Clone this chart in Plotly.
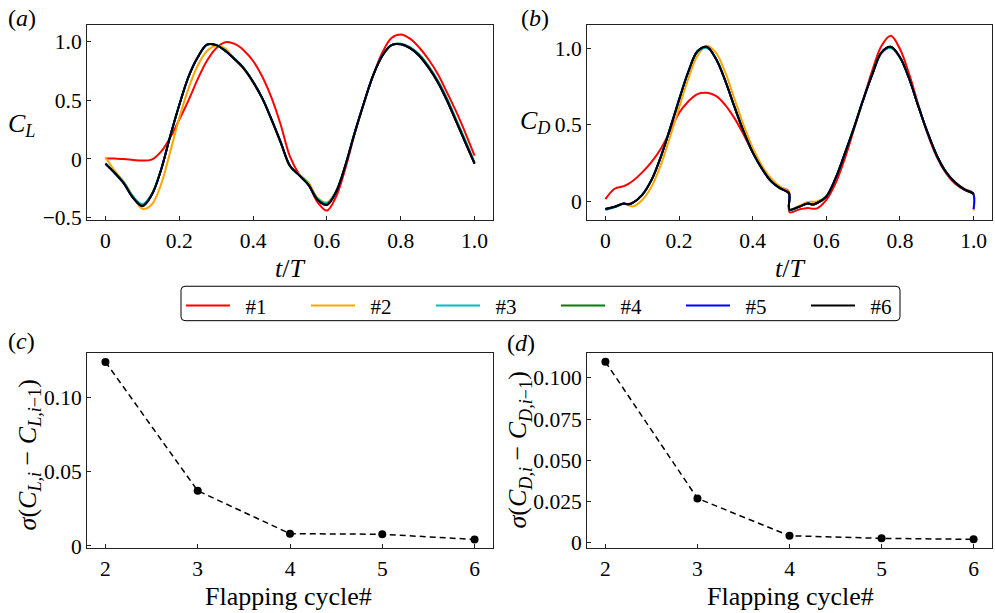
import plotly.graph_objects as go

# ---------------------------------------------------------------
# Lift coefficient over one period, flapping cycles #1 .. #6
# ---------------------------------------------------------------
t_cl = [0.0, 0.025, 0.05, 0.075, 0.1, 0.125, 0.15, 0.175, 0.2, 0.225,
        0.25, 0.275, 0.3, 0.325, 0.35, 0.375, 0.4, 0.425, 0.45, 0.475,
        0.5, 0.525, 0.55, 0.575, 0.6, 0.625, 0.65, 0.675, 0.7, 0.725,
        0.75, 0.775, 0.8, 0.825, 0.85, 0.875, 0.9, 0.925, 0.95, 0.975, 1.0]

cl_1 = [0.005, 0.003, 0.0, -0.008, -0.014, -0.006, 0.06, 0.18, 0.335, 0.50,
        0.68, 0.837, 0.944, 0.995, 0.98, 0.925, 0.835, 0.70, 0.52, 0.29,
        0.02, -0.13, -0.22, -0.37, -0.44, -0.32, -0.08, 0.21, 0.47, 0.71,
        0.905, 1.03, 1.06, 1.025, 0.95, 0.85, 0.726, 0.57, 0.405, 0.223, 0.028]

cl_2 = [0.014, -0.10, -0.195, -0.32, -0.425, -0.39, -0.223, 0.056, 0.35, 0.60,
        0.796, 0.92, 0.965, 0.94, 0.845, 0.765, 0.65, 0.51, 0.33, 0.135,
        -0.065, -0.13, -0.20, -0.33, -0.37, -0.27, -0.05, 0.22, 0.475, 0.71,
        0.88, 0.97, 0.977, 0.944, 0.88, 0.78, 0.656, 0.50, 0.32, 0.14, -0.04]

cl_3 = [-0.035, -0.115, -0.20, -0.32, -0.385, -0.30, -0.095, 0.19, 0.46, 0.70,
        0.865, 0.972, 0.972, 0.925, 0.855, 0.775, 0.66, 0.52, 0.34, 0.145,
        -0.055, -0.135, -0.215, -0.34, -0.375, -0.275, -0.055, 0.22, 0.475, 0.71,
        0.88, 0.97, 0.982, 0.952, 0.892, 0.795, 0.672, 0.52, 0.34, 0.16, -0.03]

cl_4 = [-0.04, -0.118, -0.205, -0.328, -0.395, -0.305, -0.098, 0.19, 0.46, 0.70,
        0.866, 0.974, 0.971, 0.922, 0.852, 0.772, 0.658, 0.518, 0.337, 0.142,
        -0.058, -0.138, -0.218, -0.345, -0.385, -0.278, -0.056, 0.22, 0.475, 0.71,
        0.88, 0.97, 0.979, 0.948, 0.886, 0.788, 0.664, 0.51, 0.33, 0.15, -0.035]

cl_5 = [-0.042, -0.12, -0.21, -0.332, -0.40, -0.308, -0.1, 0.19, 0.46, 0.70,
        0.866, 0.975, 0.97, 0.92, 0.85, 0.77, 0.656, 0.516, 0.335, 0.14,
        -0.06, -0.14, -0.22, -0.35, -0.39, -0.28, -0.056, 0.22, 0.475, 0.71,
        0.88, 0.97, 0.977, 0.944, 0.88, 0.78, 0.656, 0.50, 0.32, 0.14, -0.04]

cl_6 = [-0.042, -0.12, -0.21, -0.333, -0.402, -0.31, -0.1, 0.19, 0.46, 0.70,
        0.866, 0.975, 0.97, 0.92, 0.85, 0.77, 0.656, 0.516, 0.335, 0.14,
        -0.06, -0.14, -0.22, -0.35, -0.392, -0.28, -0.056, 0.22, 0.475, 0.71,
        0.88, 0.97, 0.977, 0.944, 0.88, 0.78, 0.656, 0.50, 0.32, 0.14, -0.04]

# ---------------------------------------------------------------
# Drag coefficient over one period (jumps at stroke reversal)
# ---------------------------------------------------------------
t_cd = [0.0, 0.025, 0.05, 0.0625, 0.075, 0.1, 0.125, 0.15, 0.175, 0.2,
        0.225, 0.25, 0.275, 0.3, 0.325, 0.35, 0.375, 0.4, 0.425, 0.45,
        0.475, 0.4985, 0.5, 0.525, 0.55, 0.5625, 0.575, 0.6, 0.625, 0.65,
        0.675, 0.7, 0.725, 0.75, 0.775, 0.8, 0.825, 0.85, 0.875, 0.9,
        0.925, 0.95, 0.975, 0.9985, 1.0]

cd_1 = [0.015, 0.083, 0.10, 0.115, 0.135, 0.19, 0.256, 0.342, 0.455, 0.577,
        0.652, 0.70, 0.708, 0.688, 0.63, 0.545, 0.438, 0.32, 0.22, 0.14,
        0.092, 0.065, -0.07, -0.053, -0.043, -0.047, -0.045, 0.01, 0.118, 0.278,
        0.47, 0.662, 0.855, 1.015, 1.08, 0.994, 0.83, 0.63, 0.44, 0.29,
        0.185, 0.115, 0.075, 0.052, 0.05]

cd_2 = [-0.047, -0.035, -0.015, -0.025, -0.032, 0.01, 0.096, 0.235, 0.417, 0.61,
        0.80, 0.95, 1.015, 0.97, 0.844, 0.673, 0.50, 0.35, 0.235, 0.15,
        0.095, 0.06, -0.05, -0.03, -0.003, -0.002, 0.0, 0.035, 0.15, 0.31,
        0.48, 0.662, 0.83, 0.972, 1.008, 0.94, 0.80, 0.62, 0.452, 0.303,
        0.196, 0.127, 0.082, 0.056, -0.06]

cd_3 = [-0.056, -0.038, -0.015, -0.02, -0.008, 0.045, 0.14, 0.29, 0.475, 0.668,
        0.848, 0.975, 1.0, 0.935, 0.795, 0.625, 0.462, 0.322, 0.215, 0.133,
        0.086, 0.054, -0.056, -0.037, -0.014, -0.02, -0.01, 0.034, 0.152, 0.312,
        0.482, 0.662, 0.828, 0.966, 1.0, 0.936, 0.80, 0.62, 0.449, 0.30,
        0.192, 0.124, 0.079, 0.053, 0.05]

cd_4 = [-0.05, -0.035, -0.013, -0.018, -0.008, 0.043, 0.139, 0.288, 0.47, 0.662,
        0.844, 0.979, 1.006, 0.93, 0.79, 0.62, 0.459, 0.32, 0.214, 0.132,
        0.085, 0.053, -0.053, -0.035, -0.013, -0.02, -0.01, 0.032, 0.15, 0.31,
        0.48, 0.662, 0.83, 0.972, 1.006, 0.94, 0.80, 0.62, 0.449, 0.30,
        0.192, 0.124, 0.079, 0.053, 0.05]

cd_5 = [-0.049, -0.034, -0.013, -0.018, -0.008, 0.043, 0.139, 0.288, 0.47, 0.662,
        0.844, 0.979, 1.008, 0.93, 0.79, 0.62, 0.459, 0.32, 0.214, 0.132,
        0.085, 0.053, -0.053, -0.035, -0.013, -0.02, -0.01, 0.032, 0.15, 0.31,
        0.48, 0.662, 0.83, 0.972, 1.008, 0.94, 0.80, 0.62, 0.449, 0.30,
        0.192, 0.124, 0.079, 0.053, -0.05]

cd_6 = [-0.049, -0.034, -0.013, -0.018, -0.008, 0.043, 0.139, 0.288, 0.47, 0.662,
        0.844, 0.979, 1.008, 0.93, 0.79, 0.62, 0.459, 0.32, 0.214, 0.132,
        0.085, 0.053, -0.053, -0.035, -0.013, -0.02, -0.01, 0.032, 0.15, 0.31,
        0.48, 0.662, 0.83, 0.972, 1.008, 0.94, 0.80, 0.62, 0.449, 0.30,
        0.192, 0.124, 0.079, 0.053, 0.05]

# ---------------------------------------------------------------
# Cycle-to-cycle convergence (standard deviation of the difference)
# ---------------------------------------------------------------
cycles = [2, 3, 4, 5, 6]
sigma_cl = [0.124, 0.0372, 0.0083, 0.0079, 0.0044]
sigma_cd = [0.1098, 0.0267, 0.0040, 0.0024, 0.0018]

series_names = ["#1", "#2", "#3", "#4", "#5", "#6"]
series_colors = ["#ff0000", "#ffa500", "#00bfbf", "#008000", "#0000ff", "#000000"]
cl_series = [cl_1, cl_2, cl_3, cl_4, cl_5, cl_6]
cd_series = [cd_1, cd_2, cd_3, cd_4, cd_5, cd_6]

x_ticks_t = [0, 0.2, 0.4, 0.6, 0.8, 1.0]
x_text_t = ["0", "0.2", "0.4", "0.6", "0.8", "1.0"]
cl_ticks = [-0.5, 0, 0.5, 1.0]
cl_text = ["\u22120.5", "0", "0.5", "1.0"]
cd_ticks = [0, 0.5, 1.0]
cd_text = ["0", "0.5", "1.0"]
scl_ticks = [0, 0.05, 0.10]
scl_text = ["0", "0.05", "0.10"]
scd_ticks = [0, 0.025, 0.05, 0.075, 0.10]
scd_text = ["0", "0.025", "0.050", "0.075", "0.100"]

FONT = "Liberation Serif"
TICK_SIZE = 21.5
LABEL_SIZE = 26
W, H = 995, 613


def px(x):
    return x / W


def py(y):
    return 1 - y / H


fig = go.Figure()

# legend labels get a little leading space to sit further from the line sample
for name, color, ys in zip(series_names, series_colors, cl_series):
    fig.add_trace(go.Scatter(
        x=t_cl, y=ys, mode="lines", name="\u00a0\u00a0" + name,
        line=dict(color=color, width=2, shape="spline", smoothing=1),
        xaxis="x", yaxis="y", showlegend=True))

for name, color, ys in zip(series_names, series_colors, cd_series):
    fig.add_trace(go.Scatter(
        x=t_cd, y=ys, mode="lines", name=name,
        line=dict(color=color, width=2, shape="spline", smoothing=1),
        xaxis="x2", yaxis="y2", showlegend=False))

for ys, xa, ya in [(sigma_cl, "x3", "y3"), (sigma_cd, "x4", "y4")]:
    fig.add_trace(go.Scatter(
        x=cycles, y=ys, mode="lines+markers",
        line=dict(color="black", width=1.5, dash="6px,4px"),
        marker=dict(color="black", size=8),
        xaxis=xa, yaxis=ya, showlegend=False))


def axis(domain, rng, tickvals, ticktext, anchor, standoff=0):
    return dict(
        domain=domain, range=rng, anchor=anchor,
        tickmode="array", tickvals=tickvals, ticktext=ticktext,
        showline=True, linecolor="#222", linewidth=1, mirror=True,
        ticks="inside", ticklen=4, tickwidth=1, tickcolor="#222",
        showgrid=False, zeroline=False, ticklabelstandoff=standoff,
        tickfont=dict(family=FONT, size=TICK_SIZE, color="black"),
    )


dom_left = [px(87), px(493)]
dom_right = [px(587), px(992)]
dom_top = [py(224), py(25)]
dom_bot = [py(557.3), py(359)]

# rounded frame around the shared legend
lx0, lx1, ly0, ly1 = px(181), px(900), py(326), py(291)
rx, ry = 4 / W, 4 / H
legend_frame = (
    f"M{lx0 + rx},{ly0} L{lx1 - rx},{ly0} Q{lx1},{ly0} {lx1},{ly0 + ry} "
    f"L{lx1},{ly1 - ry} Q{lx1},{ly1} {lx1 - rx},{ly1} "
    f"L{lx0 + rx},{ly1} Q{lx0},{ly1} {lx0},{ly1 - ry} "
    f"L{lx0},{ly0 + ry} Q{lx0},{ly0} {lx0 + rx},{ly0} Z"
)

fig.update_layout(
    width=W, height=H,
    margin=dict(l=0, r=0, t=0, b=0),
    paper_bgcolor="white", plot_bgcolor="white",
    font=dict(family=FONT, size=21, color="black"),
    xaxis=axis(dom_left, [-0.05, 1.05], x_ticks_t, x_text_t, "y", 1),
    yaxis=axis(dom_top, [-0.523, 1.145], cl_ticks, cl_text, "x"),
    xaxis2=axis(dom_right, [-0.05, 1.05], x_ticks_t, x_text_t, "y2", 1),
    yaxis2=axis(dom_top, [-0.123, 1.153], cd_ticks, cd_text, "x2"),
    xaxis3=axis(dom_left, [1.8, 6.2], cycles, [str(c) for c in cycles], "y3", 1),
    yaxis3=axis(dom_bot, [-0.0015, 0.1299], scl_ticks, scl_text, "x3"),
    xaxis4=axis(dom_right, [1.8, 6.2], cycles, [str(c) for c in cycles], "y4", 1),
    yaxis4=axis(dom_bot, [-0.0036, 0.1151], scd_ticks, scd_text, "x4"),
    legend=dict(
        orientation="h", x=px(181), xanchor="left", y=py(290), yanchor="top",
        borderwidth=0, bgcolor="rgba(0,0,0,0)",
        font=dict(family=FONT, size=21, color="black"),
        itemwidth=44, entrywidth=66, entrywidthmode="pixels",
    ),
    shapes=[dict(type="path", path=legend_frame, xref="paper", yref="paper",
                 line=dict(color="black", width=1), fillcolor="rgba(0,0,0,0)")],
)

ann = []


def label(text, x, y, size=LABEL_SIZE, angle=0, xanchor="center"):
    ann.append(dict(text=text, x=px(x), y=py(y), xref="paper", yref="paper",
                    showarrow=False, xanchor=xanchor, yanchor="middle",
                    textangle=angle, font=dict(family=FONT, size=size, color="black")))


label("(<i>a</i>)", 6, 18, size=24, xanchor="left")
label("(<i>b</i>)", 519, 18, size=24, xanchor="left")
label("(<i>c</i>)", 6, 347, size=24, xanchor="left")
label("(<i>d</i>)", 505, 349, size=24, xanchor="left")
label("<i>C</i><sub><i>L</i></sub>", 21, 127)
label("<i>C</i><sub><i>D</i></sub>", 535, 124)
label("<i>t</i>/<i>T</i>", 290, 273)
label("<i>t</i>/<i>T</i>", 790, 273)
label("Flapping cycle#", 288, 606)
label("Flapping cycle#", 790, 606)
label("<i>\u03c3</i>(<i>C</i><sub><i>L,i</i></sub> \u2212 <i>C</i><sub><i>L,i</i>\u22121</sub>)",
      29, 463, angle=-90)
label("<i>\u03c3</i>(<i>C</i><sub><i>D,i</i></sub> \u2212 <i>C</i><sub><i>D,i</i>\u22121</sub>)",
      519, 458, angle=-90)

fig.update_layout(annotations=ann)

fig.write_html("out.html")
